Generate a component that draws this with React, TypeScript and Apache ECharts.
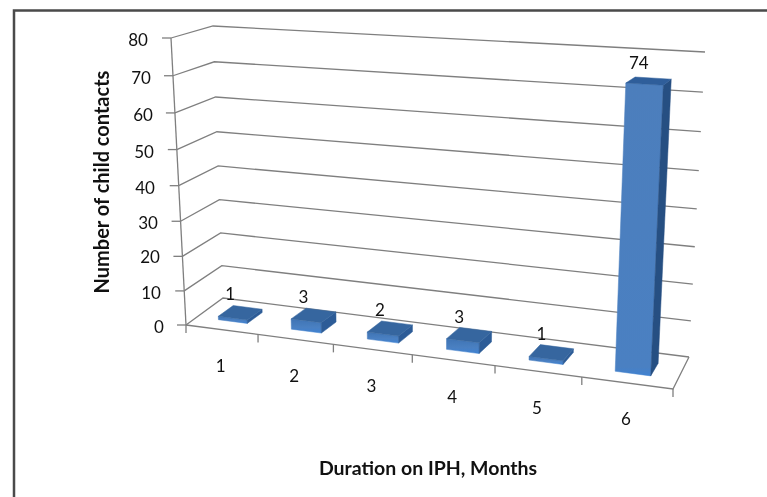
import React, { useEffect, useRef } from "react";
import * as echarts from "echarts";

const WIDTH = 767;
const HEIGHT = 497;

const categories = ["1", "2", "3", "4", "5", "6"];
const barValues = [1, 3, 2, 3, 1, 74];
const yTicks = [0, 10, 20, 30, 40, 50, 60, 70, 80];
const yMax = 80;
const xTitle = "Duration on IPH, Months";
const yTitle = "Number of child contacts";

// pixel corners of the 3D box: [front/back][left/right][floor/top]
const FL0 = [186, 325], FR0 = [673, 389], FL1 = [171, 38], FR1 = [688, 66];
const BL0 = [223, 298], BR0 = [689, 357], BL1 = [213, 26], BR1 = [705, 52];
const PERSP_X_FRONT = 1.152;
const PERSP_X_BACK = 1.09;
const PERSP_Y = 1.06;
const FONT = "Lato, 'Open Sans', sans-serif";
const GRID_COLOR = "#7f7f7f";
const TEXT_COLOR = "#111111";

const warp = (t: number, k: number) => (t <= 0 ? 0 : t / (t + k * (1 - t)));
const mix = (a: number[], b: number[], t: number) => [a[0] + (b[0] - a[0]) * t, a[1] + (b[1] - a[1]) * t];

// t: 0..1 along the category axis, h: 0..1 up the value axis, d: 0..1 into the depth
function project(t: number, h: number, d: number) {
  const sf = warp(t, PERSP_X_FRONT);
  const sb = warp(t, PERSP_X_BACK);
  const w = warp(h, PERSP_Y);
  const front = mix(mix(FL0, FR0, sf), mix(FL1, FR1, sf), w);
  const back = mix(mix(BL0, BR0, sb), mix(BL1, BR1, sb), w);
  return mix(front, back, d);
}

// read a data point through the chart's hidden axes, returning 0..1 fractions
function fractions(api: any, x: number, y: number) {
  const p = api.coord([x, y]);
  return { t: p[0] / WIDTH, h: 1 - p[1] / HEIGHT };
}

const line = (points: number[][], color = GRID_COLOR, lineWidth = 1.3) => ({
  type: "polyline",
  silent: true,
  shape: { points },
  style: { stroke: color, lineWidth, fill: "none" },
});

const label = (text: string, x: number, y: number, fontSize = 17, fontWeight = "normal") => ({
  type: "text",
  silent: true,
  style: { text, x, y, fill: TEXT_COLOR, fontSize, fontWeight, fontFamily: FONT, align: "center", verticalAlign: "middle" },
});

const face = (points: number[][], fill: any) => ({ type: "polygon", silent: true, shape: { points }, style: { fill, stroke: fill, lineWidth: 0.5 } });

const Y_LABEL_X: number[] = [159, 151, 150, 148, 145, 144, 143, 141, 138];
const Y_LABEL_Y: number[] = [326, 292, 256, 222, 187, 151, 114, 77, 39];

function renderGrid(params: any, api: any) {
  const value = api.value(0);
  const idx = params.dataIndex;
  const { h } = fractions(api, 0, value);
  const fl = project(0, h, 0);
  const bl = project(0, h, 1);
  const br = project(1, h, 1);
  return {
    type: "group",
    children: [
      line([fl, bl, br]),
      line([[fl[0] - 9, fl[1]], fl]),
      label(String(value), Y_LABEL_X[idx], Y_LABEL_Y[idx]),
    ],
  };
}

function renderFrame(params: any, api: any) {
  const { t } = fractions(api, api.value(0), 0);
  const children: any[] = [];
  const p = project(t, 0, 0);
  children.push(line([p, [p[0], p[1] + 8]]));
  if (params.dataIndex === 0) {
    children.push(line([project(0, 0, 0), project(0, 1, 0)]));
    children.push(line([project(0, 0, 0), project(1, 0, 0), project(1, 0, 1)]));
  }
  return { type: "group", children };
}

function renderBar(params: any, api: any) {
  const x = api.value(0);
  const half = 0.2;
  const a = fractions(api, x - half, api.value(1));
  const b = fractions(api, x + half, 0);
  const t0 = a.t, t1 = b.t, top = a.h;
  const d0 = 0.3, d1 = 0.7;
  const tall = api.value(1) > 10;
  const fl = project(t0, top, d0), fr = project(t1, top, d0);
  const bl = project(t0, top, d1), br = project(t1, top, d1);
  const fl0 = project(t0, 0, d0), fr0 = project(t1, 0, d0), br0 = project(t1, 0, d1);
  const frontFill = new echarts.graphic.LinearGradient(0, 0, 0, 1, [
    { offset: 0, color: tall ? "#4C7EBC" : "#3F74B4" },
    { offset: tall ? 0.97 : 0.6, color: "#4A80C2" },
    { offset: 1, color: "#3F82D2" },
  ]);
  const mid = project((t0 + t1) / 2, top, 0.5);
  return {
    type: "group",
    children: [
      face([fl0, fr0, fr, fl], frontFill),
      face([fr0, br0, br, fr], tall ? "#264F82" : "#2D5C97"),
      face([fl, fr, br, bl], tall ? "#2F5E9A" : "#36669F"),
      label(String(api.value(1)), mid[0] - 10, mid[1] - 19),
    ],
  };
}

function renderCategoryLabel(_: any, api: any) {
  const { t } = fractions(api, api.value(0), 0);
  const p = project(t, 0, 0);
  return label(categories[api.value(0) - 0.5], p[0] - 1, p[1] + 36);
}

const makeOption = () => ({
  animation: false,
  backgroundColor: "#ffffff",
  grid: { left: 0, right: 0, top: 0, bottom: 0 },
  xAxis: { type: "value", min: 0, max: categories.length, show: false },
  yAxis: { type: "value", min: 0, max: yMax, show: false },
  graphic: [
    { type: "polyline", silent: true, shape: { points: [[14, HEIGHT], [14, 10.5], [WIDTH, 10.5]] }, style: { stroke: "#4a4a4a", lineWidth: 2.5, fill: "none" } },
    { type: "text", silent: true, x: 428, y: 467, style: { text: xTitle, fill: TEXT_COLOR, fontSize: 19.5, fontWeight: "bold", fontFamily: FONT, align: "center", verticalAlign: "middle" } },
    { type: "text", silent: true, x: 101, y: 182, rotation: Math.PI / 2, style: { text: yTitle, fill: TEXT_COLOR, fontSize: 20, fontWeight: "bold", fontFamily: FONT, align: "center", verticalAlign: "middle" } },
  ],
  series: [
    { type: "custom", silent: true, clip: false, z: 1, renderItem: renderGrid, encode: { y: 0 }, data: yTicks.map((v) => [v]) },
    { type: "custom", silent: true, clip: false, z: 2, renderItem: renderFrame, data: Array.from({ length: categories.length + 1 }, (_, i) => [i]) },
    { type: "custom", silent: true, clip: false, z: 3, renderItem: renderBar, data: barValues.map((v, i) => [i + 0.5, v]) },
    { type: "custom", silent: true, clip: false, z: 4, renderItem: renderCategoryLabel, data: categories.map((_, i) => [i + 0.5]) },
  ],
});

export default function App() {
  const ref = useRef<HTMLDivElement>(null);
  useEffect(() => {
    if (!ref.current) return;
    document.body.style.margin = "0";
    const chart = echarts.init(ref.current, undefined, { renderer: "svg", width: WIDTH, height: HEIGHT });
    chart.setOption(makeOption() as any);
    return () => chart.dispose();
  }, []);
  return <div ref={ref} style={{ width: WIDTH, height: HEIGHT, filter: "blur(0.5px)" }} />;
}
